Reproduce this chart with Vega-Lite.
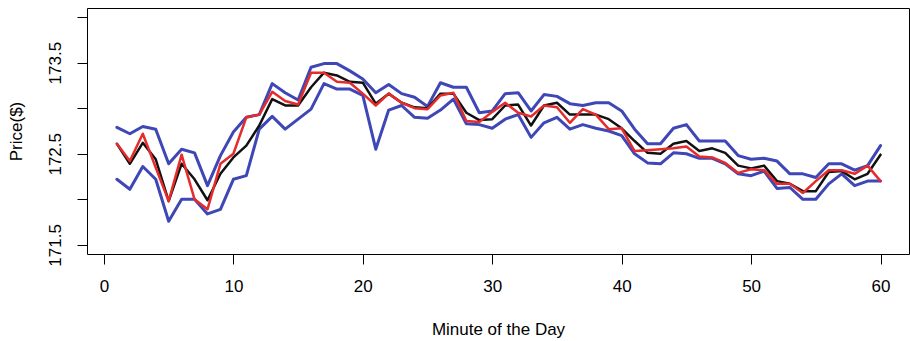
{
  "$schema": "https://vega.github.io/schema/vega-lite/v6.json",
  "width": 822,
  "height": 246,
  "autosize": {"type": "none"},
  "padding": {"left": 87, "top": 8, "right": 1, "bottom": 87},
  "background": "white",
  "data": {
    "values": [
      {"minute": 1, "upper": 172.79, "lower": 172.22, "mean": 172.61, "actual": 172.61},
      {"minute": 2, "upper": 172.72, "lower": 172.11, "mean": 172.39, "actual": 172.42},
      {"minute": 3, "upper": 172.80, "lower": 172.36, "mean": 172.62, "actual": 172.72},
      {"minute": 4, "upper": 172.77, "lower": 172.22, "mean": 172.44, "actual": 172.35},
      {"minute": 5, "upper": 172.39, "lower": 171.76, "mean": 171.98, "actual": 171.98},
      {"minute": 6, "upper": 172.55, "lower": 172.00, "mean": 172.39, "actual": 172.49},
      {"minute": 7, "upper": 172.51, "lower": 172.00, "mean": 172.22, "actual": 172.00},
      {"minute": 8, "upper": 172.15, "lower": 171.84, "mean": 171.99, "actual": 171.89},
      {"minute": 9, "upper": 172.48, "lower": 171.89, "mean": 172.28, "actual": 172.39},
      {"minute": 10, "upper": 172.74, "lower": 172.22, "mean": 172.46, "actual": 172.50},
      {"minute": 11, "upper": 172.90, "lower": 172.26, "mean": 172.59, "actual": 172.90},
      {"minute": 12, "upper": 172.93, "lower": 172.77, "mean": 172.81, "actual": 172.93},
      {"minute": 13, "upper": 173.27, "lower": 172.91, "mean": 173.10, "actual": 173.18},
      {"minute": 14, "upper": 173.17, "lower": 172.77, "mean": 173.03, "actual": 173.08},
      {"minute": 15, "upper": 173.09, "lower": 172.88, "mean": 173.03, "actual": 173.04},
      {"minute": 16, "upper": 173.45, "lower": 172.99, "mean": 173.23, "actual": 173.39},
      {"minute": 17, "upper": 173.49, "lower": 173.27, "mean": 173.39, "actual": 173.39},
      {"minute": 18, "upper": 173.49, "lower": 173.21, "mean": 173.36, "actual": 173.29},
      {"minute": 19, "upper": 173.41, "lower": 173.21, "mean": 173.29, "actual": 173.28},
      {"minute": 20, "upper": 173.32, "lower": 173.14, "mean": 173.28, "actual": 173.16},
      {"minute": 21, "upper": 173.17, "lower": 172.55, "mean": 173.05, "actual": 173.03},
      {"minute": 22, "upper": 173.26, "lower": 172.98, "mean": 173.16, "actual": 173.16},
      {"minute": 23, "upper": 173.16, "lower": 173.03, "mean": 173.06, "actual": 173.06},
      {"minute": 24, "upper": 173.12, "lower": 172.90, "mean": 173.01, "actual": 173.00},
      {"minute": 25, "upper": 173.02, "lower": 172.89, "mean": 173.00, "actual": 172.99},
      {"minute": 26, "upper": 173.28, "lower": 172.98, "mean": 173.16, "actual": 173.14},
      {"minute": 27, "upper": 173.23, "lower": 173.10, "mean": 173.16, "actual": 173.17},
      {"minute": 28, "upper": 173.23, "lower": 172.83, "mean": 172.95, "actual": 172.86},
      {"minute": 29, "upper": 172.95, "lower": 172.82, "mean": 172.87, "actual": 172.85},
      {"minute": 30, "upper": 172.97, "lower": 172.78, "mean": 172.88, "actual": 172.96},
      {"minute": 31, "upper": 173.16, "lower": 172.88, "mean": 173.03, "actual": 173.06},
      {"minute": 32, "upper": 173.17, "lower": 172.93, "mean": 173.04, "actual": 172.95},
      {"minute": 33, "upper": 172.97, "lower": 172.68, "mean": 172.81, "actual": 172.91},
      {"minute": 34, "upper": 173.15, "lower": 172.84, "mean": 173.03, "actual": 173.03},
      {"minute": 35, "upper": 173.13, "lower": 172.90, "mean": 173.06, "actual": 173.01},
      {"minute": 36, "upper": 173.05, "lower": 172.77, "mean": 172.93, "actual": 172.84},
      {"minute": 37, "upper": 173.03, "lower": 172.82, "mean": 172.93, "actual": 172.99},
      {"minute": 38, "upper": 173.06, "lower": 172.78, "mean": 172.93, "actual": 172.93},
      {"minute": 39, "upper": 173.06, "lower": 172.75, "mean": 172.88, "actual": 172.77},
      {"minute": 40, "upper": 172.97, "lower": 172.70, "mean": 172.78, "actual": 172.78},
      {"minute": 41, "upper": 172.77, "lower": 172.50, "mean": 172.64, "actual": 172.53},
      {"minute": 42, "upper": 172.61, "lower": 172.40, "mean": 172.51, "actual": 172.54},
      {"minute": 43, "upper": 172.61, "lower": 172.39, "mean": 172.50, "actual": 172.55},
      {"minute": 44, "upper": 172.78, "lower": 172.51, "mean": 172.61, "actual": 172.56},
      {"minute": 45, "upper": 172.82, "lower": 172.50, "mean": 172.64, "actual": 172.58},
      {"minute": 46, "upper": 172.64, "lower": 172.45, "mean": 172.53, "actual": 172.47},
      {"minute": 47, "upper": 172.64, "lower": 172.45, "mean": 172.56, "actual": 172.46},
      {"minute": 48, "upper": 172.64, "lower": 172.39, "mean": 172.51, "actual": 172.40},
      {"minute": 49, "upper": 172.48, "lower": 172.28, "mean": 172.37, "actual": 172.29},
      {"minute": 50, "upper": 172.44, "lower": 172.26, "mean": 172.34, "actual": 172.33},
      {"minute": 51, "upper": 172.45, "lower": 172.31, "mean": 172.37, "actual": 172.32},
      {"minute": 52, "upper": 172.42, "lower": 172.12, "mean": 172.20, "actual": 172.17},
      {"minute": 53, "upper": 172.28, "lower": 172.13, "mean": 172.17, "actual": 172.17},
      {"minute": 54, "upper": 172.28, "lower": 172.00, "mean": 172.09, "actual": 172.07},
      {"minute": 55, "upper": 172.24, "lower": 172.00, "mean": 172.09, "actual": 172.20},
      {"minute": 56, "upper": 172.39, "lower": 172.17, "mean": 172.30, "actual": 172.32},
      {"minute": 57, "upper": 172.39, "lower": 172.28, "mean": 172.31, "actual": 172.32},
      {"minute": 58, "upper": 172.32, "lower": 172.15, "mean": 172.22, "actual": 172.28},
      {"minute": 59, "upper": 172.37, "lower": 172.20, "mean": 172.28, "actual": 172.37},
      {"minute": 60, "upper": 172.59, "lower": 172.20, "mean": 172.49, "actual": 172.20}
    ]
  },
  "encoding": {
    "x": {
      "field": "minute",
      "type": "quantitative",
      "scale": {"domain": [-1.31, 62.2], "nice": false, "zero": false},
      "title": "Minute of the Day",
      "axis": {
        "values": [0, 10, 20, 30, 40, 50, 60],
        "format": "d",
        "labelPadding": 14,
        "labelBaseline": "top",
        "labelFlush": false,
        "titleX": 411,
        "titleY": 80,
        "titleBaseline": "alphabetic",
        "titleAlign": "center"
      }
    }
  },
  "layer": [
    {
      "mark": {"type": "line", "color": "#3E47B5", "strokeWidth": 3, "strokeJoin": "round", "strokeCap": "round"},
      "encoding": {
        "y": {
          "field": "upper",
          "type": "quantitative",
          "scale": {"domain": [171.4, 174.1], "nice": false, "zero": false},
          "title": "Price($)",
          "axis": {
            "values": [171.5, 172, 172.5, 173, 173.5, 174],
            "format": ".1f",
            "labelExpr": "(datum.value * 2) % 2 == 1 ? datum.label : ''",
            "labelAngle": -90,
            "labelAlign": "center",
            "labelBaseline": "alphabetic",
            "labelPadding": 17,
            "titleAngle": -90,
            "titleX": -66,
            "titleY": 123,
            "titleAlign": "center",
            "titleBaseline": "alphabetic"
          }
        }
      }
    },
    {
      "mark": {"type": "line", "color": "#3E47B5", "strokeWidth": 3, "strokeJoin": "round", "strokeCap": "round"},
      "encoding": {
        "y": {"field": "lower", "type": "quantitative", "scale": {"domain": [171.4, 174.1], "nice": false, "zero": false}, "title": "Price($)"}
      }
    },
    {
      "mark": {"type": "line", "color": "#111111", "strokeWidth": 2.5, "strokeJoin": "round", "strokeCap": "round"},
      "encoding": {
        "y": {"field": "mean", "type": "quantitative", "scale": {"domain": [171.4, 174.1], "nice": false, "zero": false}, "title": "Price($)"}
      }
    },
    {
      "mark": {"type": "line", "color": "#E52B2B", "strokeWidth": 2.5, "strokeJoin": "round", "strokeCap": "round"},
      "encoding": {
        "y": {"field": "actual", "type": "quantitative", "scale": {"domain": [171.4, 174.1], "nice": false, "zero": false}, "title": "Price($)"}
      }
    }
  ],
  "config": {
    "view": {"stroke": "#000000", "strokeWidth": 1},
    "axis": {
      "grid": false,
      "domain": false,
      "ticks": true,
      "tickColor": "#000000",
      "tickSize": 10,
      "tickWidth": 1,
      "labelFont": "Liberation Sans",
      "labelFontSize": 17,
      "labelColor": "#000000",
      "titleFont": "Liberation Sans",
      "titleFontSize": 17,
      "titleFontWeight": "normal",
      "titleColor": "#000000"
    }
  }
}
